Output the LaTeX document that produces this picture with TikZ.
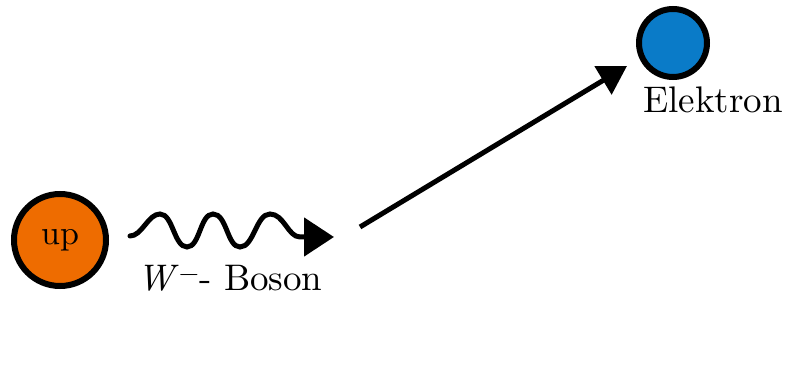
\documentclass[tikz,border=0pt]{standalone}
\usepackage{fontspec}
\setmainfont{lmroman10-regular.otf}[ItalicFont=lmroman10-italic.otf]
\usetikzlibrary{arrows.meta}
\definecolor{uporange}{HTML}{EE6C00}
\definecolor{eblue}{HTML}{0A7BC8}
\tikzset{
  particle/.style={circle, draw=black, line width=6pt, inner sep=0pt},
  lbl/.style={font=\fontsize{37}{42}\selectfont, inner sep=0pt},
  fatarrow/.style={line width=5pt, -{Triangle[length=28pt,width=32pt]}},
}
\begin{document}
\begin{tikzpicture}[x=1pt,y=-1pt]
\useasboundingbox (0,0) rectangle (785,371);
\node[particle, fill=uporange, minimum size=92pt] (up) at (60,240) {\fontsize{34}{38}\selectfont up};
\node[particle, fill=eblue, minimum size=68pt] (el) at (673,43) {};
\node[lbl, anchor=base west] (elab) at (643,113) {Elektron};
\node[lbl, anchor=base west] (wlab) at (137,291) {\textit{W}\textsuperscript{−}- Boson};
\coordinate (ws) at (130,236);
\coordinate (we) at (334,237);
\coordinate (as) at (360,227);
\coordinate (ae) at (627,66);
\draw[line width=5pt, line cap=round, -{Triangle[length=30pt,width=38pt]}]
  (ws) .. controls (142,236) and (148,214) .. (160,214)
  .. controls (173,214) and (174,247) .. (187,247)
  .. controls (200,247) and (200,214) .. (213,214)
  .. controls (227,214) and (227,247) .. (240,247)
  .. controls (254,247) and (256,214) .. (270,214)
  .. controls (284,214) and (288,237) .. (300,237) -- (we);
\draw[fatarrow] (as) -- (ae);
\end{tikzpicture}
\end{document}
